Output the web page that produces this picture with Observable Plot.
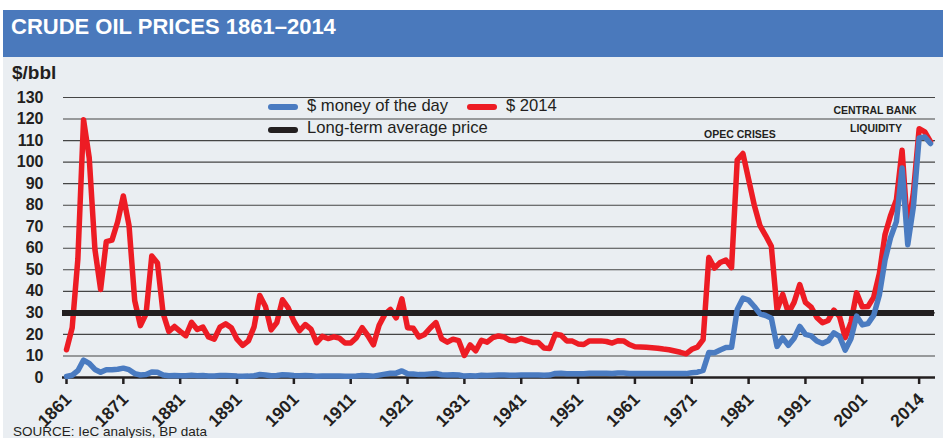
<!DOCTYPE html>
<html><head><meta charset="utf-8">
<script src="https://cdn.jsdelivr.net/npm/d3@7"></script>
<script src="https://cdn.jsdelivr.net/npm/@observablehq/plot@0.6"></script>
<style>
body{margin:0;background:#fff;font-family:"Liberation Sans",Arial,sans-serif;color:#231f20;}
#page{position:relative;width:943px;height:438px;overflow:hidden;}
#bg{position:absolute;left:3px;top:57px;right:0;bottom:0;background:#eaeef2;}
#band{position:absolute;left:3px;top:10px;right:0;height:47px;background:#4a79bc;}
.t{position:absolute;line-height:1;white-space:nowrap;}
#title{left:11px;top:16.4px;color:#fff;font-weight:bold;font-size:22px;}
#unit{left:12px;top:63px;font-weight:bold;font-size:19px;}
.leg{font-size:16.6px;}
.sw{position:absolute;height:6px;border-radius:3px;}
.ann{font-size:10.5px;font-weight:bold;text-align:center;width:140px;}
#source{left:13px;top:424.6px;font-size:13.5px;}
#chart{position:absolute;left:0;top:60px;}
#chart svg text{font-weight:bold;}
</style>
</head><body>
<div id="page">
  <div id="bg"></div>
  <div id="band"></div>
  <div id="title" class="t">CRUDE OIL PRICES 1861–2014</div>
  <div id="unit" class="t">$/bbl</div>
  <div id="chart"></div>
  <div class="sw" style="left:268px;top:104px;width:30px;background:#4a7bc1"></div>
  <div class="t leg" style="left:307px;top:98px;">$ money of the day</div>
  <div class="sw" style="left:467px;top:104px;width:30px;background:#ed1c24"></div>
  <div class="t leg" style="left:506px;top:98px;">$ 2014</div>
  <div class="sw" style="left:268px;top:127px;width:30px;background:#231f20"></div>
  <div class="t leg" style="left:307px;top:120.3px;">Long-term average price</div>
  <div class="t ann" style="left:670px;top:128.7px;">OPEC CRISES</div>
  <div class="t ann" style="left:805px;top:104.7px;">CENTRAL BANK</div>
  <div class="t ann" style="left:806px;top:122.5px;">LIQUIDITY</div>
  <div id="source" class="t">SOURCE: IeC analysis, BP data</div>
</div>
<script>
const startYear = 1861;

// $ money of the day, 1861–2013
const moneyOfTheDay = [
  0.49, 1.05, 3.15, 8.06, 6.59, 3.74, 2.41, 3.63, 3.64, 3.86,
  4.34, 3.64, 1.83, 1.17, 1.35, 2.56, 2.42, 1.19, 0.86, 0.95,
  0.86, 0.78, 1.00, 0.84, 0.88, 0.71, 0.67, 0.88, 0.94, 0.87,
  0.67, 0.56, 0.64, 0.84, 1.36, 1.18, 0.79, 0.91, 1.29, 1.19,
  0.96, 0.80, 0.94, 0.86, 0.62, 0.73, 0.72, 0.72, 0.70, 0.61,
  0.61, 0.74, 0.95, 0.81, 0.64, 1.10, 1.56, 1.98, 2.01, 3.07,
  1.73, 1.61, 1.34, 1.43, 1.68, 1.88, 1.30, 1.17, 1.27, 1.19,
  0.65, 0.87, 0.67, 1.00, 0.97, 1.09, 1.18, 1.13, 1.02, 1.02,
  1.14, 1.19, 1.20, 1.21, 1.05, 1.12, 1.90, 1.99, 1.71, 1.71,
  1.71, 1.71, 1.93, 1.93, 1.93, 1.93, 1.90, 2.08, 2.08, 1.90,
  1.80, 1.80, 1.80, 1.80, 1.80, 1.80, 1.80, 1.80, 1.80, 1.80,
  2.24, 2.48, 3.29, 11.58, 11.53, 12.80, 13.92, 14.02, 31.61, 36.83,
  35.93, 32.97, 29.55, 28.78, 27.56, 14.43, 18.44, 14.92, 18.23, 23.73,
  20.00, 19.32, 16.97, 15.82, 17.02, 20.67, 19.09, 12.72, 17.97, 28.50,
  24.44, 25.02, 28.83, 38.27, 54.52, 65.14, 72.39, 97.26, 61.67, 79.50,
  111.26, 111.67, 108.66
];

// $ 2014 (constant dollars), 1861–2013
const dollars2014 = [
  12.9, 23.1, 55.0, 119.7, 101.9, 59.5, 40.9, 63.1, 63.8, 72.3,
  84.3, 70.6, 35.7, 24.1, 29.6, 56.4, 53.2, 29.7, 21.4, 23.7,
  21.4, 19.4, 25.6, 22.3, 23.4, 18.8, 17.8, 23.4, 24.9, 23.1,
  17.8, 14.9, 17.0, 23.5, 38.1, 33.0, 22.1, 25.5, 36.1, 32.3,
  26.1, 21.7, 24.6, 22.5, 16.2, 19.1, 18.1, 18.9, 18.3, 16.0,
  16.0, 18.5, 23.1, 19.5, 15.2, 24.3, 29.3, 31.6, 27.7, 36.5,
  23.1, 22.9, 18.8, 20.0, 23.0, 25.5, 17.9, 16.4, 17.8, 17.1,
  10.2, 15.1, 12.4, 17.3, 16.4, 18.5, 19.3, 18.8, 17.3, 17.1,
  18.1, 17.1, 16.3, 16.2, 13.7, 13.5, 20.1, 19.6, 17.0, 16.9,
  15.6, 15.3, 17.0, 17.0, 17.0, 16.7, 16.0, 17.1, 17.0, 15.3,
  14.3, 14.2, 14.0, 13.8, 13.6, 13.2, 12.9, 12.3, 11.7, 11.0,
  13.1, 14.1, 17.6, 55.7, 50.8, 53.4, 54.5, 51.0, 101.0, 104.0,
  92.0, 80.0, 70.5, 65.9, 60.9, 31.3, 38.6, 30.0, 34.9, 43.1,
  34.9, 32.7, 27.9, 25.4, 26.5, 31.3, 28.3, 18.5, 25.6, 39.3,
  32.8, 33.0, 37.2, 48.2, 66.4, 75.4, 82.5, 105.5, 68.0, 86.0,
  115.5, 114.0, 109.5
];

const longTermAverage = 30;
const yTicks = [0, 10, 20, 30, 40, 50, 60, 70, 80, 90, 100, 110, 120, 130];
const xTickYears = [1861, 1871, 1881, 1891, 1901, 1911, 1921, 1931, 1941, 1951, 1961, 1971, 1981, 1991, 2001, 2011];
const xTickLabels = ["1861", "1871", "1881", "1891", "1901", "1911", "1921", "1931", "1941", "1951", "1961", "1971", "1981", "1991", "2001", "2014"];

const rows = moneyOfTheDay.map((v, i) => ({year: startYear + i, money: v, real: dollars2014[i]}));
const labelOf = new Map(xTickYears.map((y, i) => [y, xTickLabels[i]]));
const ink = "#231f20";

const chart = Plot.plot({
  width: 943,
  height: 378,
  marginLeft: 66,
  marginRight: 13,
  marginTop: 37,
  marginBottom: 61,
  style: {background: "transparent", overflow: "visible", fontFamily: '"Liberation Sans", Arial, sans-serif'},
  x: {domain: [1861, 2013]},
  y: {domain: [0, 130]},
  marks: [
    Plot.ruleY(yTicks.filter(d => d > 0), {stroke: "#454545", strokeWidth: 1.1, insetLeft: -3, insetRight: -5}),
    Plot.axisY(yTicks, {tickSize: 0, tickPadding: 23, fontSize: 16, fontWeight: "bold", fill: ink, label: null}),
    Plot.ruleY([0], {stroke: ink, strokeWidth: 2.5, insetLeft: -4, insetRight: -5}),
    Plot.axisX(xTickYears, {tickSize: 7, tickFormat: () => "", stroke: ink, strokeWidth: 2.5, label: null}),
    Plot.text(xTickYears, {x: d => d, y: 0, text: d => labelOf.get(d), rotate: -45, textAnchor: "end", lineAnchor: "middle",
      dx: 2, dy: 19, fontSize: 17.5, fontWeight: "bold", fill: ink}),
    Plot.lineY(rows, {x: "year", y: "real", stroke: "#ed1c24", strokeWidth: 5.5, strokeLinejoin: "round", strokeLinecap: "round"}),
    Plot.ruleY([longTermAverage], {stroke: ink, strokeWidth: 6, insetLeft: -4, insetRight: -4}),
    Plot.lineY(rows, {x: "year", y: "money", stroke: "#4a7bc1", strokeWidth: 5.5, strokeLinejoin: "round", strokeLinecap: "round"})
  ]
});
document.getElementById("chart").appendChild(chart);
</script>
</body></html>
